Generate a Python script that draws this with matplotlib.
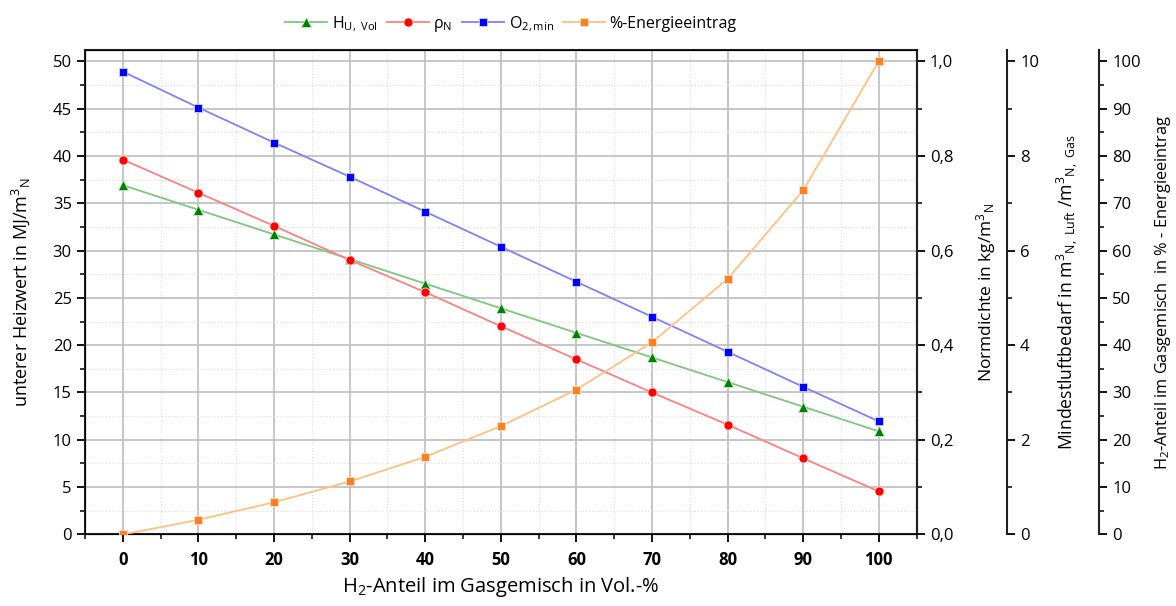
import matplotlib
matplotlib.use("Agg")
import matplotlib.pyplot as plt
from matplotlib.ticker import MultipleLocator, FuncFormatter

plt.rcParams["font.family"] = ["Open Sans", "DejaVu Sans"]
plt.rcParams["mathtext.fontset"] = "custom"
plt.rcParams["mathtext.rm"] = "Open Sans"
plt.rcParams["mathtext.it"] = "Open Sans"
plt.rcParams["mathtext.default"] = "regular"

# Data
h2_share = [0, 10, 20, 30, 40, 50, 60, 70, 80, 90, 100]
heizwert = [36.9, 34.3, 31.7, 29.1, 26.5, 23.9, 21.3, 18.7, 16.1, 13.5, 10.9]
normdichte = [0.792, 0.722, 0.652, 0.580, 0.512, 0.440, 0.370, 0.300, 0.232, 0.161, 0.091]
luftbedarf = [9.78, 9.02, 8.28, 7.56, 6.82, 6.08, 5.34, 4.60, 3.86, 3.12, 2.39]
energie = [0.0, 3.1, 6.8, 11.2, 16.4, 22.9, 30.6, 40.6, 54.0, 72.7, 100.0]

fig = plt.figure(figsize=(11.76, 6.06), dpi=100)
ax1 = fig.add_axes([0.0723, 0.118, 0.7071, 0.799])

comma = FuncFormatter(lambda v, p: f"{v:.1f}".replace(".", ","))

# left axis
ax1.set_xlim(-5, 105)
ax1.set_ylim(0, 51.15)
ax1.xaxis.set_major_locator(MultipleLocator(10))
ax1.xaxis.set_minor_locator(MultipleLocator(5))
ax1.yaxis.set_major_locator(MultipleLocator(5))
ax1.yaxis.set_minor_locator(MultipleLocator(2.5))
ax1.grid(which="major", color="#bdbdbd", linewidth=1.2)
ax1.grid(which="minor", color="#dedede", linewidth=0.8, linestyle=":")
ax1.set_axisbelow(True)
for s in ax1.spines.values():
    s.set_linewidth(1.5)
    s.set_color("#222222")
ax1.tick_params(which="major", length=6, width=1.3, labelsize=12)
ax1.tick_params(which="minor", length=3.5, width=1.1)
ax1.tick_params(axis="x", which="major", pad=6)
for lbl in ax1.get_xticklabels():
    lbl.set_fontweight("bold")
ax1.set_xlabel(r"H$_2$-Anteil im Gasgemisch in Vol.-%", fontsize=14.5, labelpad=4)
ax1.set_ylabel(r"unterer Heizwert in MJ/m$^3$$_N$", fontsize=13, labelpad=15)

l1, = ax1.plot(h2_share, heizwert, color="#7fc77f", marker="^", markersize=7,
               markerfacecolor="#008000", markeredgecolor="#c8e6c8", markeredgewidth=0.6,
               linewidth=1.3, label=r"H$_{U,\ Vol}$", zorder=5)

# density axis
ax2 = ax1.twinx()
ax2.set_ylim(0, 1.023)
ax2.yaxis.set_major_locator(MultipleLocator(0.2))
ax2.yaxis.set_minor_locator(MultipleLocator(0.1))
ax2.yaxis.set_major_formatter(comma)
ax2.set_ylabel(r"Normdichte in kg/m$^3$$_N$", fontsize=12.5, labelpad=15)
l2, = ax2.plot(h2_share, normdichte, color="#ff8080", marker="o", markersize=6.5,
               markerfacecolor="#ff0000", markeredgecolor="#ffd0d0", markeredgewidth=0.6,
               linewidth=1.3, label=r"$\rho_N$", zorder=5)

# air demand axis
ax3 = ax1.twinx()
ax3.spines["right"].set_position(("outward", 65))
ax3.set_ylim(0, 10.23)
ax3.yaxis.set_major_locator(MultipleLocator(2))
ax3.yaxis.set_minor_locator(MultipleLocator(1))
ax3.set_ylabel(r"Mindestluftbedarf in m$^3$$_{N,\ Luft}$ /m$^3$$_{N,\ Gas}$",
               fontsize=12.7, labelpad=11)
l3, = ax3.plot(h2_share, luftbedarf, color="#8080ff", marker="s", markersize=6,
               markerfacecolor="#0000ff", markeredgecolor="#d0d0ff", markeredgewidth=0.6,
               linewidth=1.3, label=r"O$_{2,min}$", zorder=5)

# energy share axis
ax4 = ax1.twinx()
ax4.spines["right"].set_position(("outward", 131.4))
ax4.set_ylim(0, 102.3)
ax4.yaxis.set_major_locator(MultipleLocator(10))
ax4.yaxis.set_minor_locator(MultipleLocator(5))
ax4.set_ylabel(r"H$_2$-Anteil im Gasgemisch  in % - Energieeintrag", fontsize=11.8, labelpad=9)
l4, = ax4.plot(h2_share, energie, color="#ffc080", marker="s", markersize=6,
               markerfacecolor="#ff8020", markeredgecolor="#ffe0c0", markeredgewidth=0.6,
               linewidth=1.3, label="%-Energieeintrag", zorder=5)

for ax in (ax2, ax3, ax4):
    ax.tick_params(which="major", length=6, width=1.3, labelsize=12)
    ax.tick_params(which="minor", length=3.5, width=1.1)
    ax.spines["right"].set_linewidth(1.5)
    ax.spines["right"].set_color("#222222")
for ax in (ax3, ax4):
    for side in ("top", "bottom", "left"):
        ax.spines[side].set_visible(False)

fig.legend(handles=[l1, l2, l3, l4], loc="center", bbox_to_anchor=(0.4345, 0.960),
           ncol=4, frameon=False, fontsize=11.5, handlelength=2.6, columnspacing=0.6,
           handletextpad=0.3)

fig.savefig("out.png", dpi=100)
